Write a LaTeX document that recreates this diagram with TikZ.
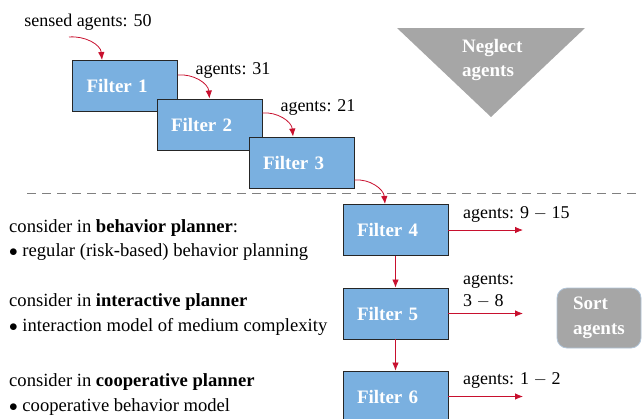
\documentclass[tikz,border=0pt]{standalone}
\usepackage{fontspec}
\setmainfont{Liberation Serif}
\usetikzlibrary{arrows.meta}
\definecolor{boxblue}{RGB}{122,176,224}
\definecolor{flowred}{RGB}{200,16,46}
\definecolor{shade}{RGB}{166,166,166}
\definecolor{rim}{RGB}{176,196,216}
\definecolor{divider}{RGB}{128,128,128}
\begin{document}
\begin{tikzpicture}[x=1pt,y=-1pt,
  filterbox/.style={draw=black!85, line width=0.9pt, fill=boxblue,
    minimum width=105pt, minimum height=51pt, inner sep=0pt,
    text width=77pt, align=left, text=white,
    font=\fontsize{19}{23}\selectfont\bfseries},
  flow/.style={draw=flowred, line width=0.8pt, -{Latex[length=8pt,width=6.5pt]}},
  lbl/.style={inner sep=0pt, align=left, font=\fontsize{18}{22}\selectfont},
  note/.style={inner sep=0pt, align=left, font=\fontsize{18.6}{24.5}\selectfont},
  whitebold/.style={inner sep=0pt, align=left, text=white,
    font=\fontsize{19}{24}\selectfont\bfseries}]
\useasboundingbox (0,0) rectangle (642,418);
\clip (0,0) rectangle (642,418);

% divider between neglected and considered agents
\coordinate (dl) at (27,193);
\coordinate (dr) at (642,193);
\draw[divider, line width=0.9pt, dash pattern=on 9pt off 6pt] (dl) -- (dr);

% neglect region
\path[fill=shade] (397,28) -- (585,28) -- (491,117) -- cycle;
\node[whitebold, anchor=west] (neglect) at (462,60) {Neglect\\agents};

% filter cascade
\node[filterbox] (f1) at (125,86) {Filter 1};
\node[filterbox] (f2) at (209.5,124.5) {Filter 2};
\node[filterbox] (f3) at (301.5,162.5) {Filter 3};
\node[filterbox] (f4) at (395.5,230) {Filter 4};
\node[filterbox] (f5) at (395.5,313.5) {Filter 5};
\node[filterbox] (f6) at (395.5,396.5) {Filter 6};

% sort region
\node[draw=rim, line width=0.8pt, fill=shade, rounded corners=10pt,
  minimum width=84pt, minimum height=60pt, inner xsep=16pt, inner ysep=0pt,
  text width=52pt, align=left, text=white,
  font=\fontsize{19}{25}\selectfont\bfseries] (sort) at (599,318) {Sort\\agents};

% counts
\node[lbl] (sensed) at (88,22) {sensed agents: 50};
\coordinate (s0) at (69,37);
\node[lbl] (c1) at (233,70) {agents: 31};
\node[lbl] (c2) at (318,107) {agents: 21};
\node[lbl, anchor=west] (c4) at (463,214) {agents: 9 $-$ 15};
\node[lbl, anchor=west] (c5) at (463,291) {agents:\\3 $-$ 8};
\node[lbl, anchor=west] (c6) at (463,380) {agents: 1 $-$ 2};

% flow arrows
\draw[flow] (s0) to[out=5, in=95] ([xshift=-23pt]f1.north);
\draw[flow] ([yshift=11pt]f1.east) to[out=5, in=95] (f2.north);
\draw[flow] ([yshift=11.5pt]f2.east) to[out=5, in=95] ([xshift=-8.5pt]f3.north);
\draw[flow] ([yshift=-17.5pt]f3.east) to[out=5, in=95] ([xshift=-10.5pt]f4.north);
\draw[flow] (f4.south) -- (f5.north);
\draw[flow] (f5.south) -- (f6.north);
\coordinate (o4) at (523,230);
\coordinate (o5) at (523,313.5);
\coordinate (o6) at (523,396.5);
\draw[flow] (f4.east) -- (o4);
\draw[flow] (f5.east) -- (o5);
\draw[flow] (f6.east) -- (o6);

% planner notes
\node[note, anchor=west] (n1) at (9,240) {consider in \textbf{behavior planner}:\\$\bullet$ regular (risk-based) behavior planning};
\node[note, anchor=west] (n2) at (9,314.5) {consider in \textbf{interactive planner}\\$\bullet$ interaction model of medium complexity};
\node[note, anchor=west] (n3) at (9,394.5) {consider in \textbf{cooperative planner}\\$\bullet$ cooperative behavior model};
\end{tikzpicture}
\end{document}
